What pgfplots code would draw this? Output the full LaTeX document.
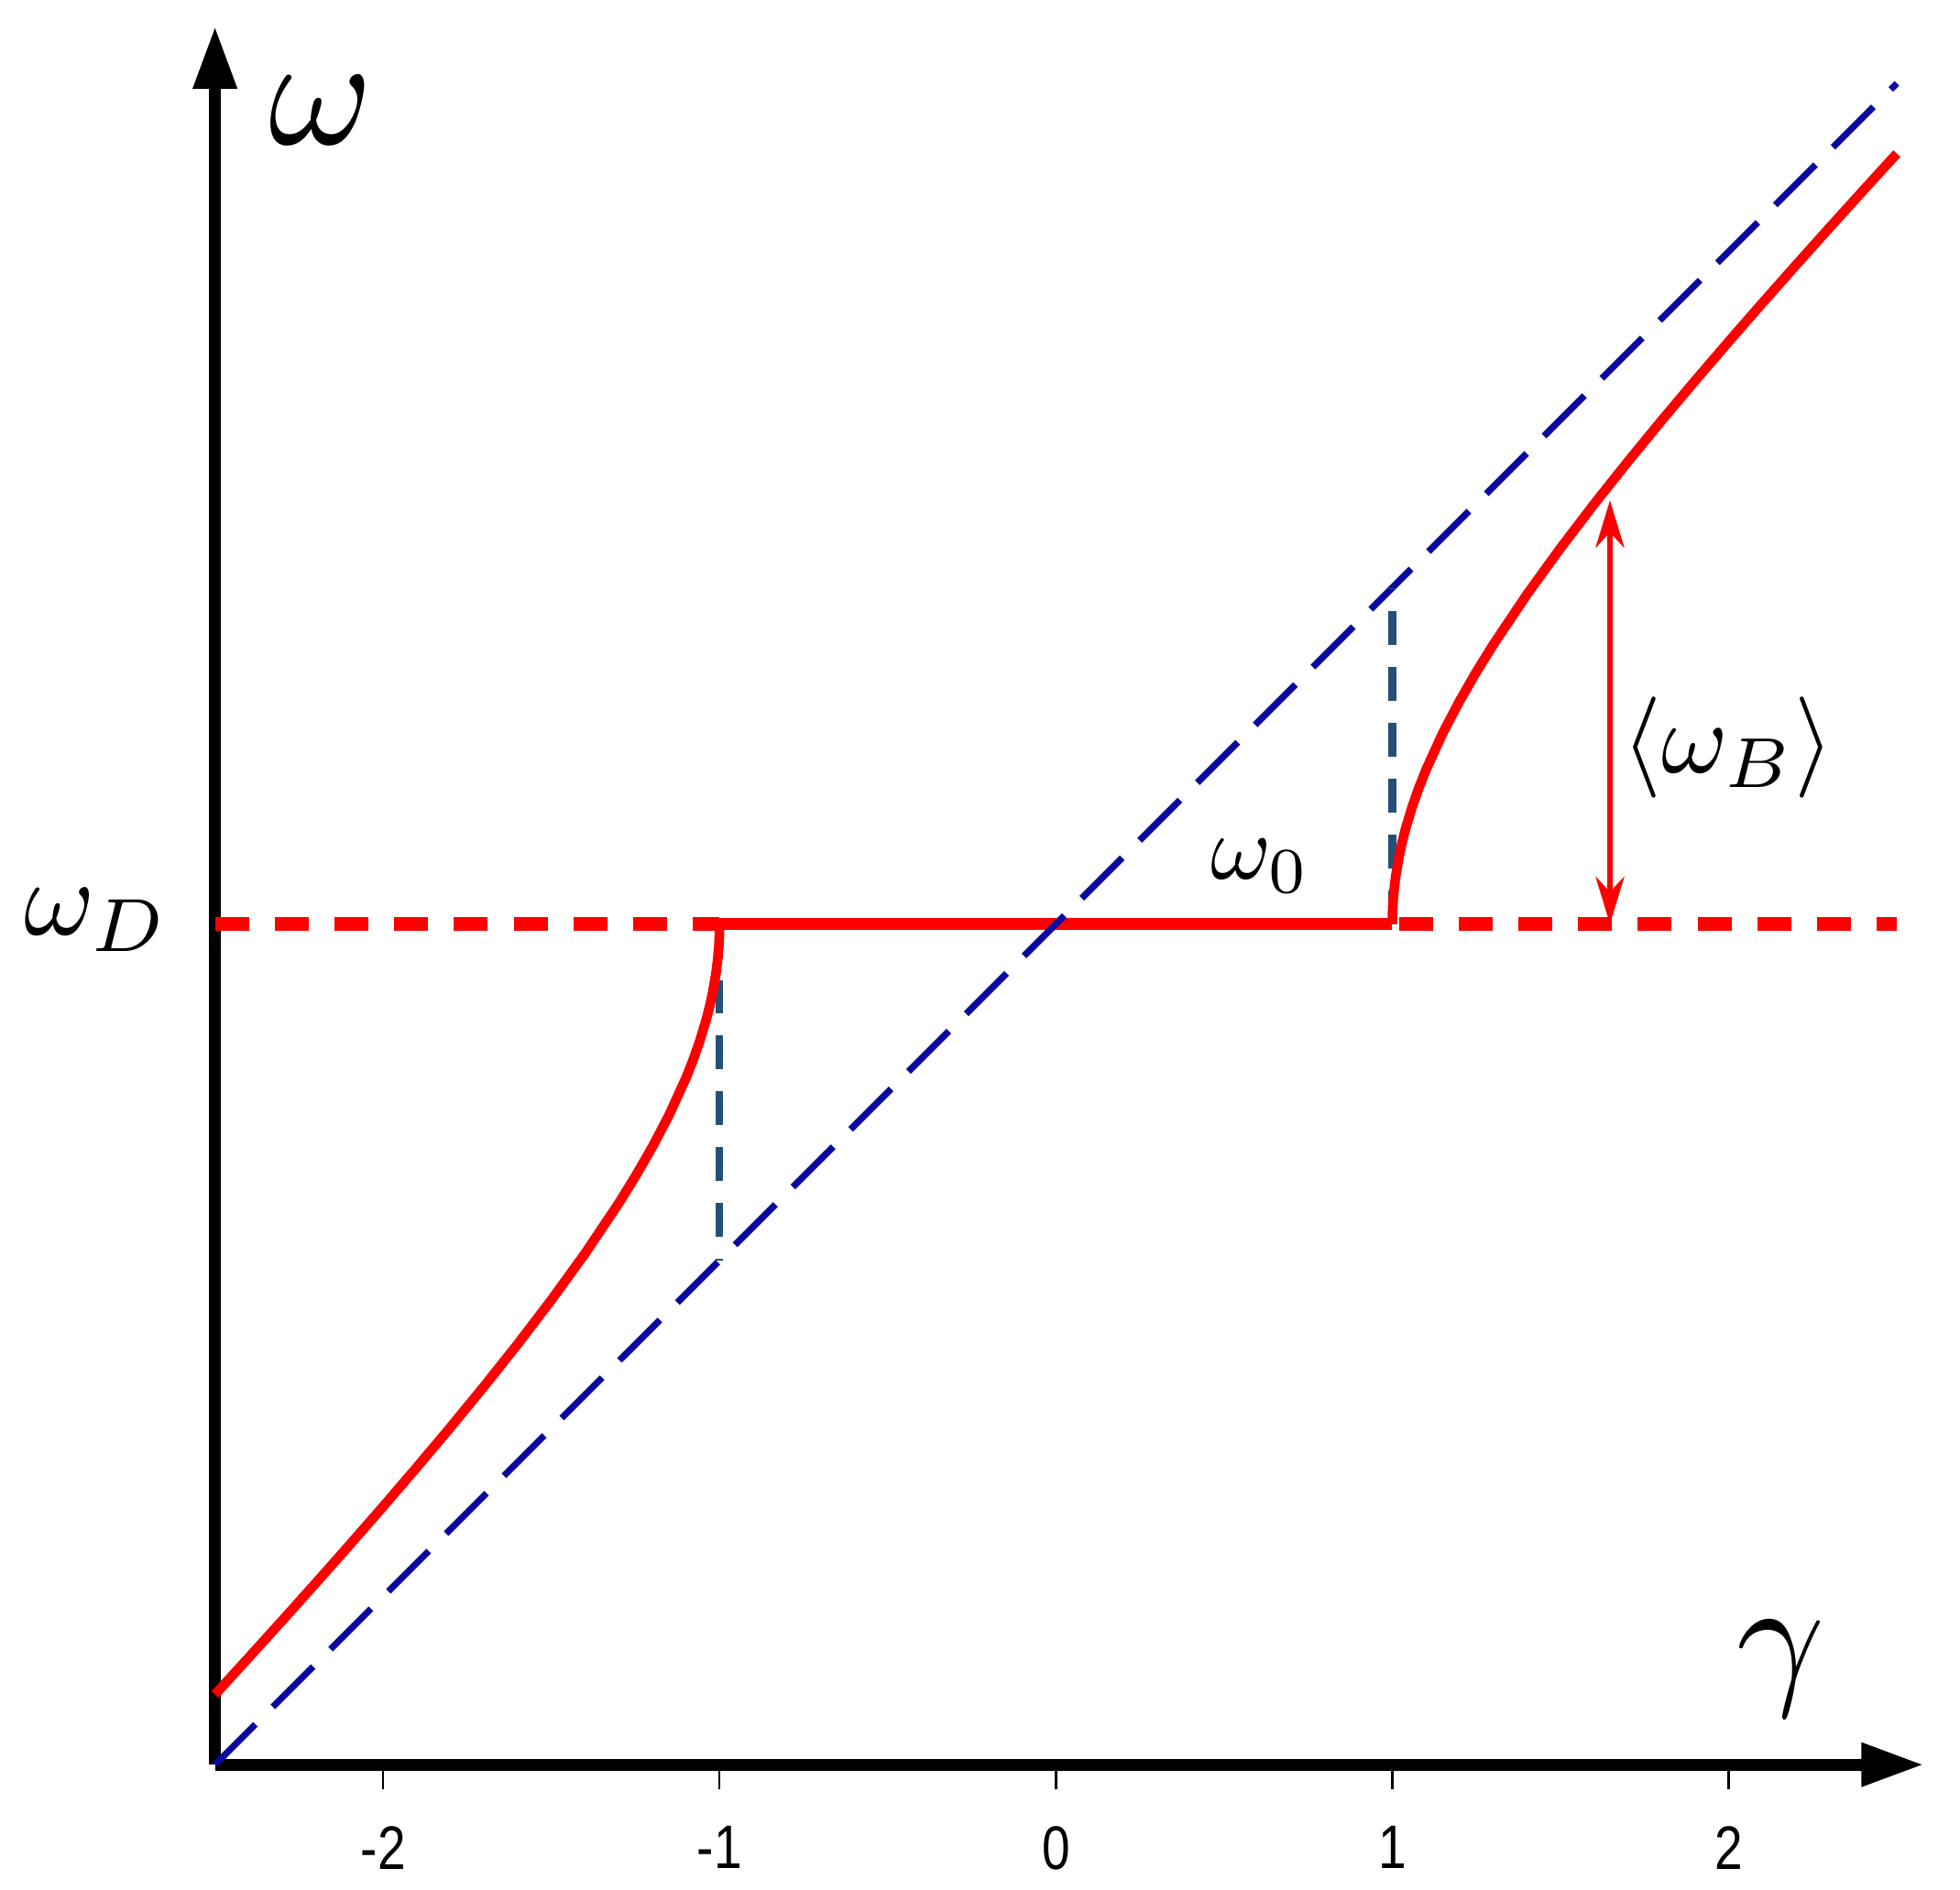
\documentclass[border=0pt]{standalone}
\usepackage{fontspec}
\newfontfamily\arial{Liberation Sans}
\usepackage{graphicx}
\usepackage{pgfplots}
\pgfplotsset{compat=1.18}
\usetikzlibrary{arrows.meta}

\definecolor{curvered}{RGB}{255,0,0}
\definecolor{diagblue}{RGB}{10,10,160}
\definecolor{stepteal}{RGB}{35,80,120}

% dispersion branches, omega_D = 2.5
\pgfplotstableread{
g w
-2.5 0.2087
-2.4 0.3183
-2.3 0.4288
-2.2 0.5404
-2.1 0.6534
-2.0 0.7679
-1.9 0.8845
-1.8 1.0033
-1.7 1.1252
-1.6 1.2510
-1.5 1.3820
-1.4 1.5202
-1.3 1.6693
-1.25 1.7500
-1.2 1.8367
-1.15 1.9321
-1.1 2.0417
-1.08 2.0921
-1.06 2.1484
-1.04 2.2143
-1.03 2.2532
-1.02 2.2990
-1.01 2.3582
-1.005 2.3999
-1.002 2.4367
-1.0005 2.4684
-1 2.5
}\leftbranch
\pgfplotstableread{
g w
1 2.5
1.0005 2.5316
1.002 2.5633
1.005 2.6001
1.01 2.6418
1.02 2.7010
1.03 2.7468
1.04 2.7857
1.06 2.8516
1.08 2.9079
1.1 2.9583
1.15 3.0679
1.2 3.1633
1.25 3.2500
1.3 3.3307
1.4 3.4798
1.5 3.6180
1.6 3.7490
1.7 3.8748
1.8 3.9967
1.9 4.1155
2.0 4.2321
2.1 4.3466
2.2 4.4596
2.3 4.5712
2.4 4.6817
2.5 4.7913
}\rightbranch

\begin{document}
\begin{tikzpicture}
\path[use as bounding box] (-1.72,-1.00) rectangle (13.96,14.12);
\begin{axis}[
  scale only axis, width=13.67cm, height=13.91cm,
  xmin=-2.5, xmax=2.58, ymin=0, ymax=5.17,
  enlargelimits=false, clip=false,
  axis lines=left,
  axis line style={line width=2.7pt, -{Triangle[length=5mm,width=3.3mm]}},
  xtick={-2,-1,0,1,2},
  xticklabels={\scalebox{0.82}[1]{-2},\scalebox{0.82}[1]{-1},\scalebox{0.82}[1]{0},\scalebox{0.82}[1]{1},\scalebox{0.82}[1]{2}},
  ytick=\empty,
  tick align=outside, major tick length=0.2cm,
  tick style={line width=0.5pt, black},
  xticklabel style={font=\arial\fontsize{14}{14}\selectfont, yshift=-0.17cm},
]
% omega_D level
\addplot[curvered, line width=3.2pt, dash pattern=on 7.7pt off 5.9pt] coordinates {(-2.5,2.5) (-1,2.5)};
\addplot[curvered, line width=3.2pt, dash pattern=on 7.7pt off 5.9pt, dash phase=-1.5pt] coordinates {(1,2.5) (2.5,2.5)};
\addplot[curvered, line width=2.8pt] coordinates {(-1,2.5) (1,2.5)};
% light line
\addplot[diagblue, line width=1.5pt, dash pattern=on 13pt off 5.6pt] coordinates {(-2.5,0) (2.5,5)};
% jumps
\addplot[stepteal, line width=1.7pt, dash pattern=on 7.7pt off 5pt] coordinates {(-1,2.5) (-1,1.5)};
\addplot[stepteal, line width=1.7pt, dash pattern=on 7.7pt off 5pt] coordinates {(1,2.5) (1,3.5)};
% branches
\addplot[curvered, line width=2.2pt] table[x=g, y=w] {\leftbranch};
\addplot[curvered, line width=2.2pt] table[x=g, y=w] {\rightbranch};
% gap arrow
\addplot[curvered, line width=1.1pt, {Stealth[length=3.8mm,width=2.3mm]}-{Stealth[length=3.8mm,width=2.3mm]}] coordinates {(1.647,2.5) (1.647,3.76)};
% labels
\node at (axis cs:-2.184,4.92) {\scalebox{3.6}{$\omega$}};
\node[anchor=base east, inner sep=0pt] at (axis cs:-2.634,2.467) {\scalebox{2.45}{$\omega_D$}};
\node at (axis cs:2.154,0.286) {\scalebox{3.5}{$\gamma$}};
\node at (axis cs:0.608,2.673) {\scalebox{2.1}{$\omega_0$}};
\node at (axis cs:1.998,3.026) {\scalebox{2.3}{$\langle\omega_B\rangle$}};
\end{axis}
\end{tikzpicture}
\end{document}
